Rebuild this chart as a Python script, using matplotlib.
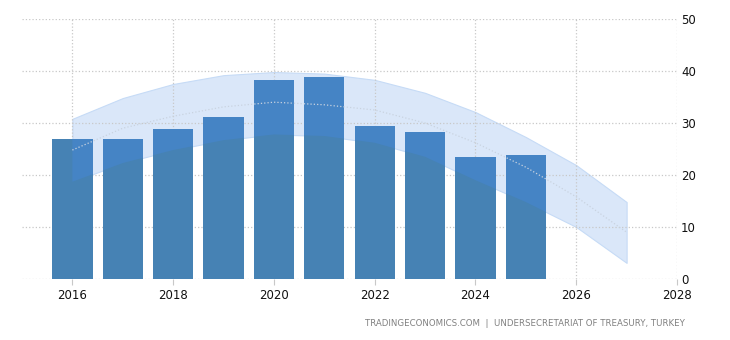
import numpy as np
import matplotlib.pyplot as plt

# bars (actual values)
years = [2016, 2017, 2018, 2019, 2020, 2021, 2022, 2023, 2024, 2025]
values = [26.9, 26.9, 28.8, 31.2, 38.3, 38.8, 29.4, 28.3, 23.5, 23.8]

# forecast band
band_years = [2016, 2017, 2018, 2019, 2020, 2021, 2022, 2023, 2024, 2025, 2026, 2027]
band_upper = [30.8, 34.8, 37.5, 39.2, 39.8, 39.5, 38.3, 35.8, 32.1, 27.3, 21.9, 14.8]
band_mid = [24.8, 29.0, 31.3, 33.1, 34.0, 33.5, 32.5, 30.0, 26.2, 21.5, 15.8, 9.0]
band_lower = [18.7, 22.3, 24.8, 26.7, 27.8, 27.5, 26.2, 23.5, 19.0, 14.8, 10.0, 3.1]

xticks = [2016, 2018, 2020, 2022, 2024, 2026, 2028]
yticks = [0, 10, 20, 30, 40, 50]

fig = plt.figure(figsize=(7.3, 3.4), dpi=100)
ax = fig.add_axes([22/730, 61/340, 655/730, 260/340])

ax.bar(years, values, width=0.8, color='#4682b4', zorder=2)
band = ax.fill_between(band_years, band_lower, band_upper, color='#dae7f9',
                       edgecolor='#c6dbf6', linewidth=0.8, zorder=0.4)
# bars look brighter where the band sits behind them
over = ax.bar(years, values, width=0.8, color='#4584c5', zorder=3)
clip = band.get_paths()[0]
for r in over:
    r.set_clip_path(clip, ax.transData)
ax.plot(band_years, band_mid, color='#c9d3e0', linestyle=':', linewidth=0.9, zorder=4)

ax.set_xlim(2015, 2028)
ax.set_ylim(0, 50)
ax.set_xticks(xticks)
ax.set_yticks(yticks)
ax.grid(True, color='#c8c8c8', linestyle=':', linewidth=0.9)
ax.set_axisbelow(True)
for s in ax.spines.values():
    s.set_visible(False)

ax.yaxis.tick_right()
ax.tick_params(axis='y', length=0, pad=3, labelsize=8.5, labelcolor='#111111')
ax.tick_params(axis='x', length=4, color='#c8c8c8', pad=3, labelsize=8.5, labelcolor='#111111')

fig.text(685/730, 1 - 324/340, 'TRADINGECONOMICS.COM  |  UNDERSECRETARIAT OF TREASURY, TURKEY',
         ha='right', va='center', fontsize=6.2, color='#808080')

fig.savefig('out.png', dpi=100)
